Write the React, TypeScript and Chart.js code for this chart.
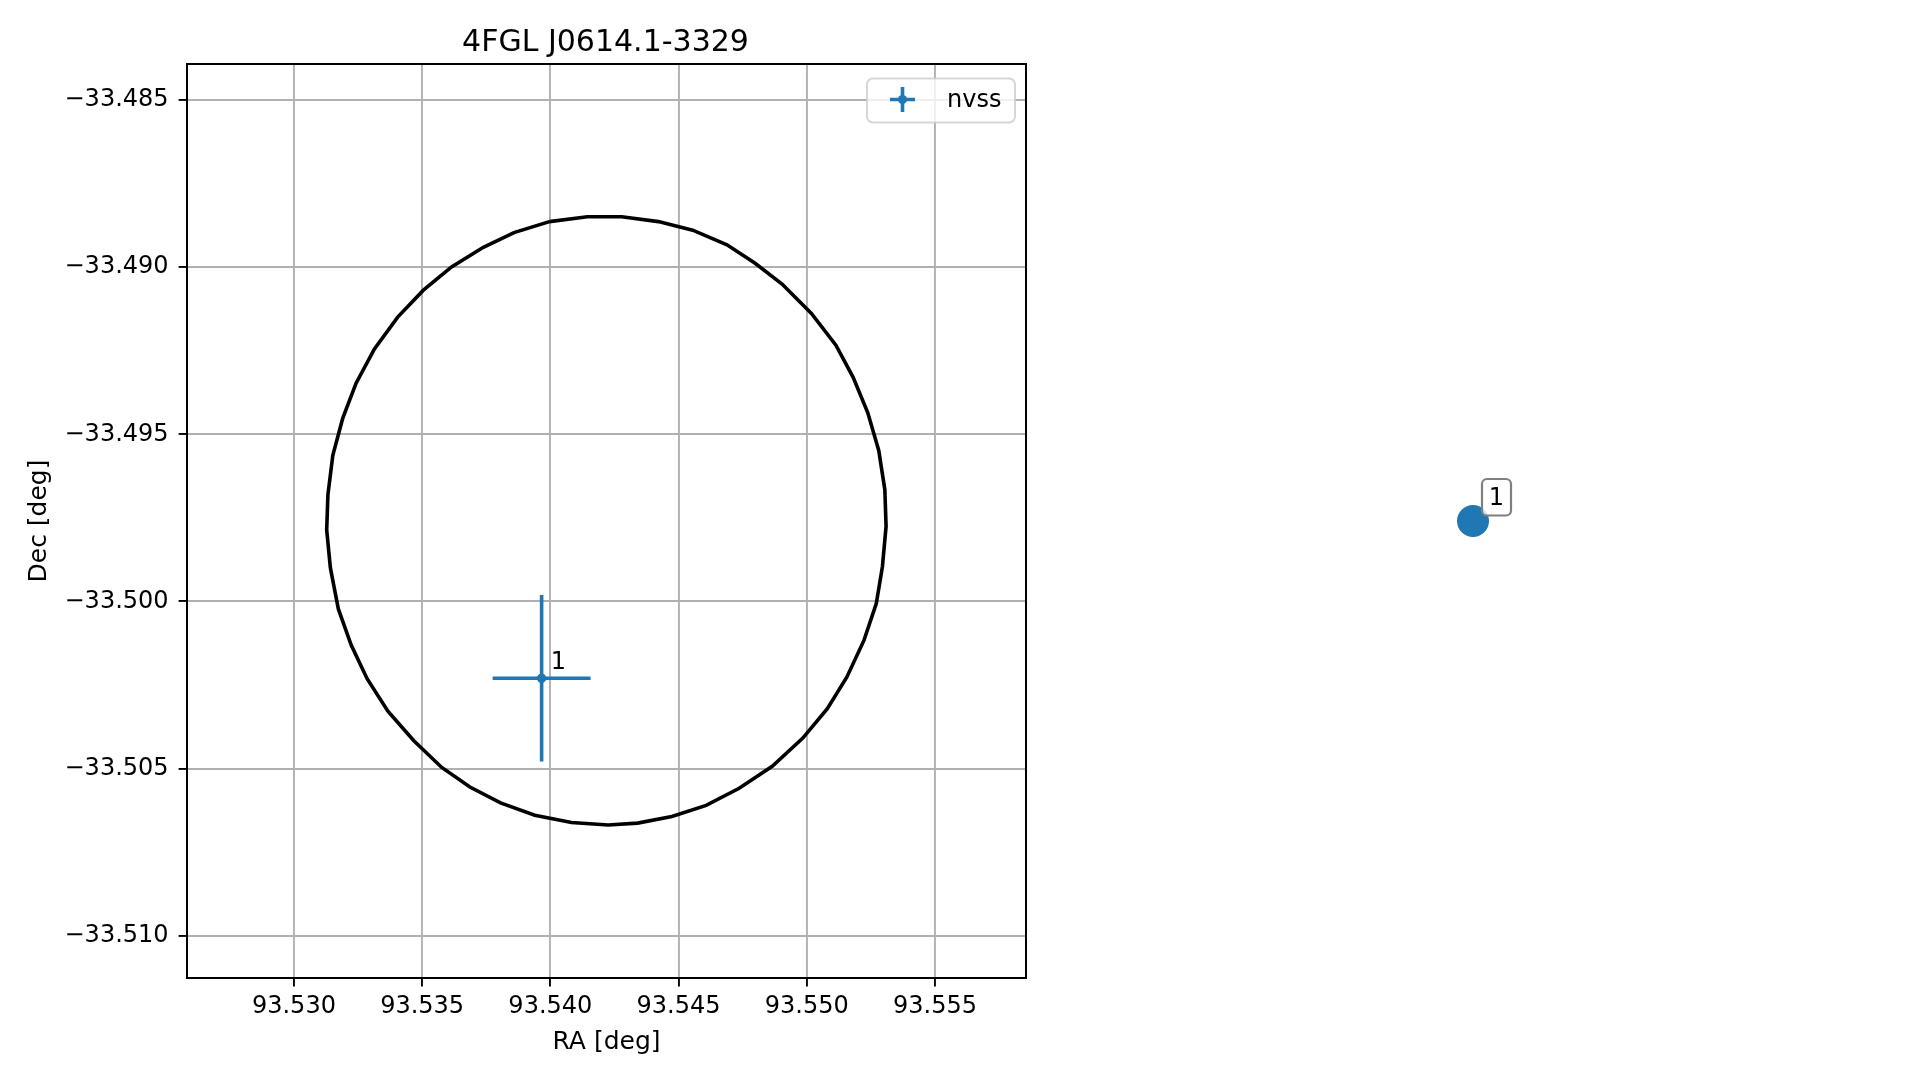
import React, { useEffect, useRef } from "react";
import { Chart, registerables } from "chart.js";

Chart.register(...registerables);

const FONT = "'DejaVu Sans', 'Liberation Sans', sans-serif";
const BLUE = "#1f77b4";

const TITLE = "4FGL J0614.1-3329";
const X_LABEL = "RA [deg]";
const Y_LABEL = "Dec [deg]";
const LEGEND_LABEL = "nvss";

// Axis ticks and ranges
const xTicks = [93.53, 93.535, 93.54, 93.545, 93.55, 93.555];
const yTicks = [-33.485, -33.49, -33.495, -33.5, -33.505, -33.51];
const xRange = [93.52583, 93.55855];
const yRange = [-33.51127, -33.48392];

// Error-ellipse (localisation contour) vertices
const circleRa = [
  93.539966, 93.541446, 93.542782, 93.544214, 93.545551, 93.546888, 93.547986,
  93.549036, 93.550181, 93.551136, 93.551804, 93.552377, 93.552807, 93.553045,
  93.553093, 93.55295, 93.552711, 93.552234, 93.551566, 93.550802, 93.549847,
  93.548654, 93.547365, 93.546076, 93.54474, 93.543403, 93.542257, 93.540825,
  93.539393, 93.538057, 93.536863, 93.535765, 93.534667, 93.533665, 93.532854,
  93.532233, 93.531732, 93.531422, 93.531278, 93.531326, 93.531517, 93.531899,
  93.532424, 93.53314, 93.534047, 93.535049, 93.536147, 93.537388, 93.538582,
];
const circleDec = [
  -33.488636, -33.48849, -33.48849, -33.488636, -33.488893, -33.489332, -33.489882,
  -33.490504, -33.491383, -33.492335, -33.493287, -33.494349, -33.495485, -33.496657,
  -33.497755, -33.498964, -33.500062, -33.501161, -33.50226, -33.503212, -33.504091,
  -33.504933, -33.505592, -33.506105, -33.506435, -33.506636, -33.506691, -33.506618,
  -33.506398, -33.506032, -33.505556, -33.50497, -33.504164, -33.503285, -33.502315,
  -33.501307, -33.500227, -33.499, -33.497865, -33.496803, -33.495631, -33.494533,
  -33.49347, -33.492445, -33.491493, -33.490687, -33.489991, -33.489405, -33.488966,
];

// NVSS source(s)
const srcRa = [93.53966];
const srcDec = [-33.5023];
const srcRaErr = [0.00191];
const srcDecErr = [0.00249];
const srcLabels = ["1"];

function fmtY(v: number) {
  return (v < 0 ? "\u2212" : "") + Math.abs(v).toFixed(3);
}

function MainChart() {
  const ref = useRef<HTMLCanvasElement>(null);
  useEffect(() => {
    const canvas = ref.current;
    if (!canvas) return;
    const circleData = circleRa.map((x, i) => ({ x, y: circleDec[i] }));
    circleData.push({ x: circleRa[0], y: circleDec[0] });
    const srcData = srcRa.map((x, i) => ({ x, y: srcDec[i] }));

    const extras = {
      id: "extras",
      afterDatasetsDraw(chart: any) {
        const { ctx, scales } = chart;
        const xs = scales.x;
        const ys = scales.y;
        ctx.save();
        srcRa.forEach((ra, i) => {
          const px = xs.getPixelForValue(ra);
          const py = ys.getPixelForValue(srcDec[i]);
          const x0 = xs.getPixelForValue(ra - srcRaErr[i]);
          const x1 = xs.getPixelForValue(ra + srcRaErr[i]);
          const y0 = ys.getPixelForValue(srcDec[i] - srcDecErr[i]);
          const y1 = ys.getPixelForValue(srcDec[i] + srcDecErr[i]);
          ctx.strokeStyle = BLUE;
          ctx.lineWidth = 3.6;
          ctx.lineCap = "butt";
          ctx.beginPath();
          ctx.moveTo(x0, py);
          ctx.lineTo(x1, py);
          ctx.moveTo(px, y0);
          ctx.lineTo(px, y1);
          ctx.stroke();
          ctx.fillStyle = BLUE;
          ctx.beginPath();
          ctx.arc(px, py, 4.5, 0, Math.PI * 2);
          ctx.fill();
          ctx.fillStyle = "#000";
          ctx.font = `24px ${FONT}`;
          ctx.textAlign = "left";
          ctx.textBaseline = "alphabetic";
          ctx.fillText(srcLabels[i], px + 9, py - 9);
        });
        ctx.restore();
      },
      afterDraw(chart: any) {
        const { ctx, chartArea } = chart;
        const { left, right, top, bottom } = chartArea;
        ctx.save();
        // frame
        ctx.strokeStyle = "#000";
        ctx.lineWidth = 2;
        ctx.strokeRect(left, top, right - left, bottom - top);
        // title
        ctx.fillStyle = "#000";
        ctx.font = `30px ${FONT}`;
        ctx.textAlign = "center";
        ctx.textBaseline = "alphabetic";
        ctx.fillText(TITLE, (left + right) / 2 - 1, 51);
        // legend
        const lx = 867, ly = 78.5, lw = 148, lh = 44, r = 6;
        ctx.beginPath();
        ctx.moveTo(lx + r, ly);
        ctx.arcTo(lx + lw, ly, lx + lw, ly + lh, r);
        ctx.arcTo(lx + lw, ly + lh, lx, ly + lh, r);
        ctx.arcTo(lx, ly + lh, lx, ly, r);
        ctx.arcTo(lx, ly, lx + lw, ly, r);
        ctx.closePath();
        ctx.fillStyle = "rgba(255,255,255,0.8)";
        ctx.fill();
        ctx.strokeStyle = "rgba(204,204,204,0.8)";
        ctx.lineWidth = 2;
        ctx.stroke();
        const cx = 902.5, cy = 99.5;
        ctx.strokeStyle = BLUE;
        ctx.lineWidth = 3.6;
        ctx.beginPath();
        ctx.moveTo(cx - 12.5, cy);
        ctx.lineTo(cx + 12.5, cy);
        ctx.moveTo(cx, cy - 12.5);
        ctx.lineTo(cx, cy + 12.5);
        ctx.stroke();
        ctx.fillStyle = BLUE;
        ctx.beginPath();
        ctx.arc(cx, cy, 4.5, 0, Math.PI * 2);
        ctx.fill();
        ctx.fillStyle = "#000";
        ctx.font = `24px ${FONT}`;
        ctx.textAlign = "left";
        ctx.fillText(LEGEND_LABEL, 947, 107);
        ctx.restore();
      },
    };

    const tickFont = { family: FONT, size: 24 };
    const labelFont = { family: FONT, size: 25 };
    const chart = new Chart(canvas, {
      type: "scatter",
      data: {
        datasets: [
          {
            type: "line",
            label: "contour",
            data: circleData,
            borderColor: "#000",
            borderWidth: 3.6,
            pointRadius: 0,
            tension: 0,
            fill: false,
            showLine: true,
          } as any,
          {
            label: LEGEND_LABEL,
            data: srcData,
            pointRadius: 4.5,
            backgroundColor: BLUE,
            borderWidth: 0,
          },
        ],
      },
      options: {
        animation: false,
        responsive: false,
        devicePixelRatio: 1,
        layout: { padding: { left: 0, top: 64, right: 893, bottom: 0 } },
        plugins: {
          legend: { display: false },
          tooltip: { enabled: false },
          title: { display: false },
        },
        scales: {
          x: {
            type: "linear",
            min: xRange[0],
            max: xRange[1],
            afterBuildTicks: (s: any) => {
              s.ticks = xTicks.map((v) => ({ value: v }));
            },
            afterFit: (s: any) => {
              s.height = 102;
            },
            ticks: {
              callback: (v: any) => Number(v).toFixed(3),
              font: tickFont,
              color: "#000",
              padding: 6,
              maxRotation: 0,
              autoSkip: false,
            },
            grid: {
              color: "#b0b0b0",
              lineWidth: 1.9,
              tickColor: "#000",
              tickLength: 8.4,
              tickWidth: 1.9,
            },
            border: { display: false },
            title: {
              display: true,
              text: X_LABEL,
              font: labelFont,
              color: "#000",
              padding: { top: 0, bottom: 22.5 },
            },
          },
          y: {
            type: "linear",
            min: yRange[0],
            max: yRange[1],
            afterBuildTicks: (s: any) => {
              s.ticks = yTicks.map((v) => ({ value: v }));
            },
            afterFit: (s: any) => {
              s.width = 187;
            },
            ticks: {
              callback: (v: any) => fmtY(Number(v)),
              font: tickFont,
              color: "#000",
              padding: 10,
              autoSkip: false,
            },
            grid: {
              color: "#b0b0b0",
              lineWidth: 1.9,
              tickColor: "#000",
              tickLength: 8.4,
              tickWidth: 1.9,
            },
            border: { display: false },
            title: {
              display: true,
              text: Y_LABEL,
              font: labelFont,
              color: "#000",
              padding: { top: 24.5, bottom: 0 },
            },
          },
        },
      } as any,
      plugins: [extras],
    });
    return () => chart.destroy();
  }, []);
  return (
    <canvas
      ref={ref}
      width={1919}
      height={1080}
      style={{ position: "absolute", left: 0, top: 0, width: 1919, height: 1080 }}
    />
  );
}

function SideChart() {
  const ref = useRef<HTMLCanvasElement>(null);
  useEffect(() => {
    const canvas = ref.current;
    if (!canvas) return;
    const data = srcRa.map((x, i) => ({ x, y: srcDec[i] }));
    const labelPlugin = {
      id: "sideLabels",
      afterDatasetsDraw(chart: any) {
        const { ctx, scales } = chart;
        ctx.save();
        srcRa.forEach((ra, i) => {
          const px = scales.x.getPixelForValue(ra);
          const py = scales.y.getPixelForValue(srcDec[i]);
          const bx = px + 9, by = py - 42, bw = 29, bh = 36.5, r = 5;
          ctx.beginPath();
          ctx.moveTo(bx + r, by);
          ctx.arcTo(bx + bw, by, bx + bw, by + bh, r);
          ctx.arcTo(bx + bw, by + bh, bx, by + bh, r);
          ctx.arcTo(bx, by + bh, bx, by, r);
          ctx.arcTo(bx, by, bx + bw, by, r);
          ctx.closePath();
          ctx.fillStyle = "rgba(255,255,255,0.8)";
          ctx.fill();
          ctx.strokeStyle = "#7f7f7f";
          ctx.lineWidth = 2.2;
          ctx.stroke();
          ctx.fillStyle = "#000";
          ctx.font = `24px ${FONT}`;
          ctx.textAlign = "center";
          ctx.textBaseline = "alphabetic";
          ctx.fillText(srcLabels[i], bx + bw / 2, py - 16);
        });
        ctx.restore();
      },
    };
    const chart = new Chart(canvas, {
      type: "scatter",
      data: {
        datasets: [
          {
            label: LEGEND_LABEL,
            data,
            pointRadius: 16,
            backgroundColor: BLUE,
            borderWidth: 0,
          },
        ],
      },
      options: {
        animation: false,
        responsive: false,
        devicePixelRatio: 1,
        layout: { padding: 0 },
        plugins: {
          legend: { display: false },
          tooltip: { enabled: false },
        },
        scales: {
          x: { type: "linear", display: false, min: srcRa[0] - 0.01, max: srcRa[0] + 0.01 },
          y: { type: "linear", display: false, min: srcDec[0] - 0.01, max: srcDec[0] + 0.01 },
        },
      } as any,
      plugins: [labelPlugin],
    });
    return () => chart.destroy();
  }, []);
  return (
    <canvas
      ref={ref}
      width={600}
      height={914}
      style={{ position: "absolute", left: 1173, top: 64, width: 600, height: 914 }}
    />
  );
}

export default function App() {
  return (
    <div
      style={{
        position: "fixed",
        left: 0,
        top: 0,
        width: 1919,
        height: 1080,
        background: "#fff",
        overflow: "hidden",
      }}
    >
      <MainChart />
      <SideChart />
    </div>
  );
}
